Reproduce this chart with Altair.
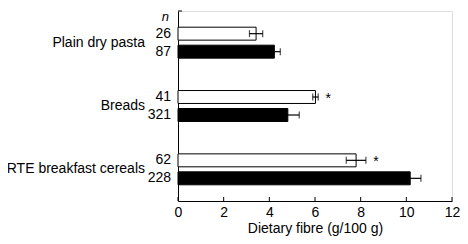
import altair as alt
import pandas as pd

categories = ["Plain dry pasta", "Breads", "RTE breakfast cereals"]
series = ["white", "black"]
means_white = [3.42, 6.02, 7.80]
err_white = [0.29, 0.12, 0.43]
means_black = [4.22, 4.81, 10.17]
err_black = [0.26, 0.50, 0.47]
n_white = [26, 41, 62]
n_black = [87, 321, 228]
star_white = ["", "*", "*"]
x_ticks = [0, 2, 4, 6, 8, 10, 12]

rows = []
for i, c in enumerate(categories):
    rows.append(dict(cat=c, grp="white", mean=means_white[i], err=err_white[i],
                     n=str(n_white[i]), star=star_white[i]))
    rows.append(dict(cat=c, grp="black", mean=means_black[i], err=err_black[i],
                     n=str(n_black[i]), star=""))
df = pd.DataFrame(rows)
df["lo"] = df["mean"] - df["err"]
df["hi"] = df["mean"] + df["err"]

FONT = "Liberation Sans"
H = 190
W = 274
TITLE = "Dietary fibre (g/100 g)"

xscale = alt.Scale(domain=[0, 12], nice=False)
xaxis = alt.Axis(values=x_ticks, ticks=False, tickSize=0, grid=False, domainColor="black",
                 labelColor="black", labelFontSize=14, labelFont=FONT, labelPadding=4,
                 title=TITLE, titleFont=FONT, titleFontSize=14, titleFontWeight="normal",
                 titleColor="black", titlePadding=2, labelFlush=False)
yscale = alt.Scale(domain=categories, paddingInner=0, paddingOuter=0)
yaxis = alt.Axis(labels=False, ticks=False, title=None, domainColor="black", grid=False)
yoff = alt.YOffset("grp:N", sort=series,
                   scale=alt.Scale(domain=series, paddingInner=0.28, paddingOuter=0.9))

base = alt.Chart(df)
y = alt.Y("cat:N", scale=yscale, axis=yaxis, sort=categories)

bars = base.mark_bar(stroke="black", strokeWidth=1).encode(
    x=alt.X("mean:Q", scale=xscale, axis=xaxis),
    y=y,
    yOffset=yoff,
    fill=alt.Fill("grp:N", scale=alt.Scale(domain=series, range=["white", "black"]), legend=None),
)

err = base.mark_rule(color="black", strokeWidth=1.2).encode(
    x=alt.X("lo:Q", scale=xscale, title=TITLE), x2="hi:Q", y=y, yOffset=yoff)

caps_lo = base.mark_tick(color="black", thickness=1.2, size=7).encode(
    x=alt.X("lo:Q", scale=xscale, title=TITLE), y=y, yOffset=yoff)
caps_hi = base.mark_tick(color="black", thickness=1.2, size=7).encode(
    x=alt.X("hi:Q", scale=xscale, title=TITLE), y=y, yOffset=yoff)

stars = base.mark_text(font=FONT, fontSize=14, color="black", dx=10, dy=2).encode(
    x=alt.X("hi:Q", scale=xscale, title=TITLE), y=y, yOffset=yoff, text="star:N")

nlab = base.mark_text(font=FONT, fontSize=14, color="black", align="right").encode(
    x=alt.value(-7), y=y, yOffset=yoff, text="n:N")

catdf = pd.DataFrame({"cat": categories})
catlab = alt.Chart(catdf).mark_text(font=FONT, fontSize=14, color="black", align="right").encode(
    x=alt.value(-33), y=y, text="cat:N")

tickdf = pd.DataFrame({"t": x_ticks})
xt = alt.Chart(tickdf).mark_rule(color="black", strokeWidth=1).encode(
    x=alt.X("t:Q", scale=xscale, title=TITLE), y=alt.value(H), y2=alt.value(H - 4))

topdf = pd.DataFrame({"lab": ["n"]})
toptick = alt.Chart(topdf).mark_rule(color="black", strokeWidth=1).encode(
    x=alt.value(0), x2=alt.value(4), y=alt.value(0))
nhead = alt.Chart(topdf).mark_text(font=FONT, fontSize=13, fontStyle="italic", color="black",
                                   align="right", baseline="alphabetic").encode(
    x=alt.value(-9), y=alt.value(10), text="lab:N")

chart = alt.layer(bars, err, caps_lo, caps_hi, stars, nlab, catlab, xt, toptick, nhead).properties(
    width=W, height=H,
    autosize=alt.AutoSizeParams(type="none"),
    padding={"left": 170, "top": 3, "right": 8, "bottom": 35},
).configure_view(stroke=None).configure(background="white")

chart.save("out.html", embed_options={"renderer": "svg", "actions": False})
